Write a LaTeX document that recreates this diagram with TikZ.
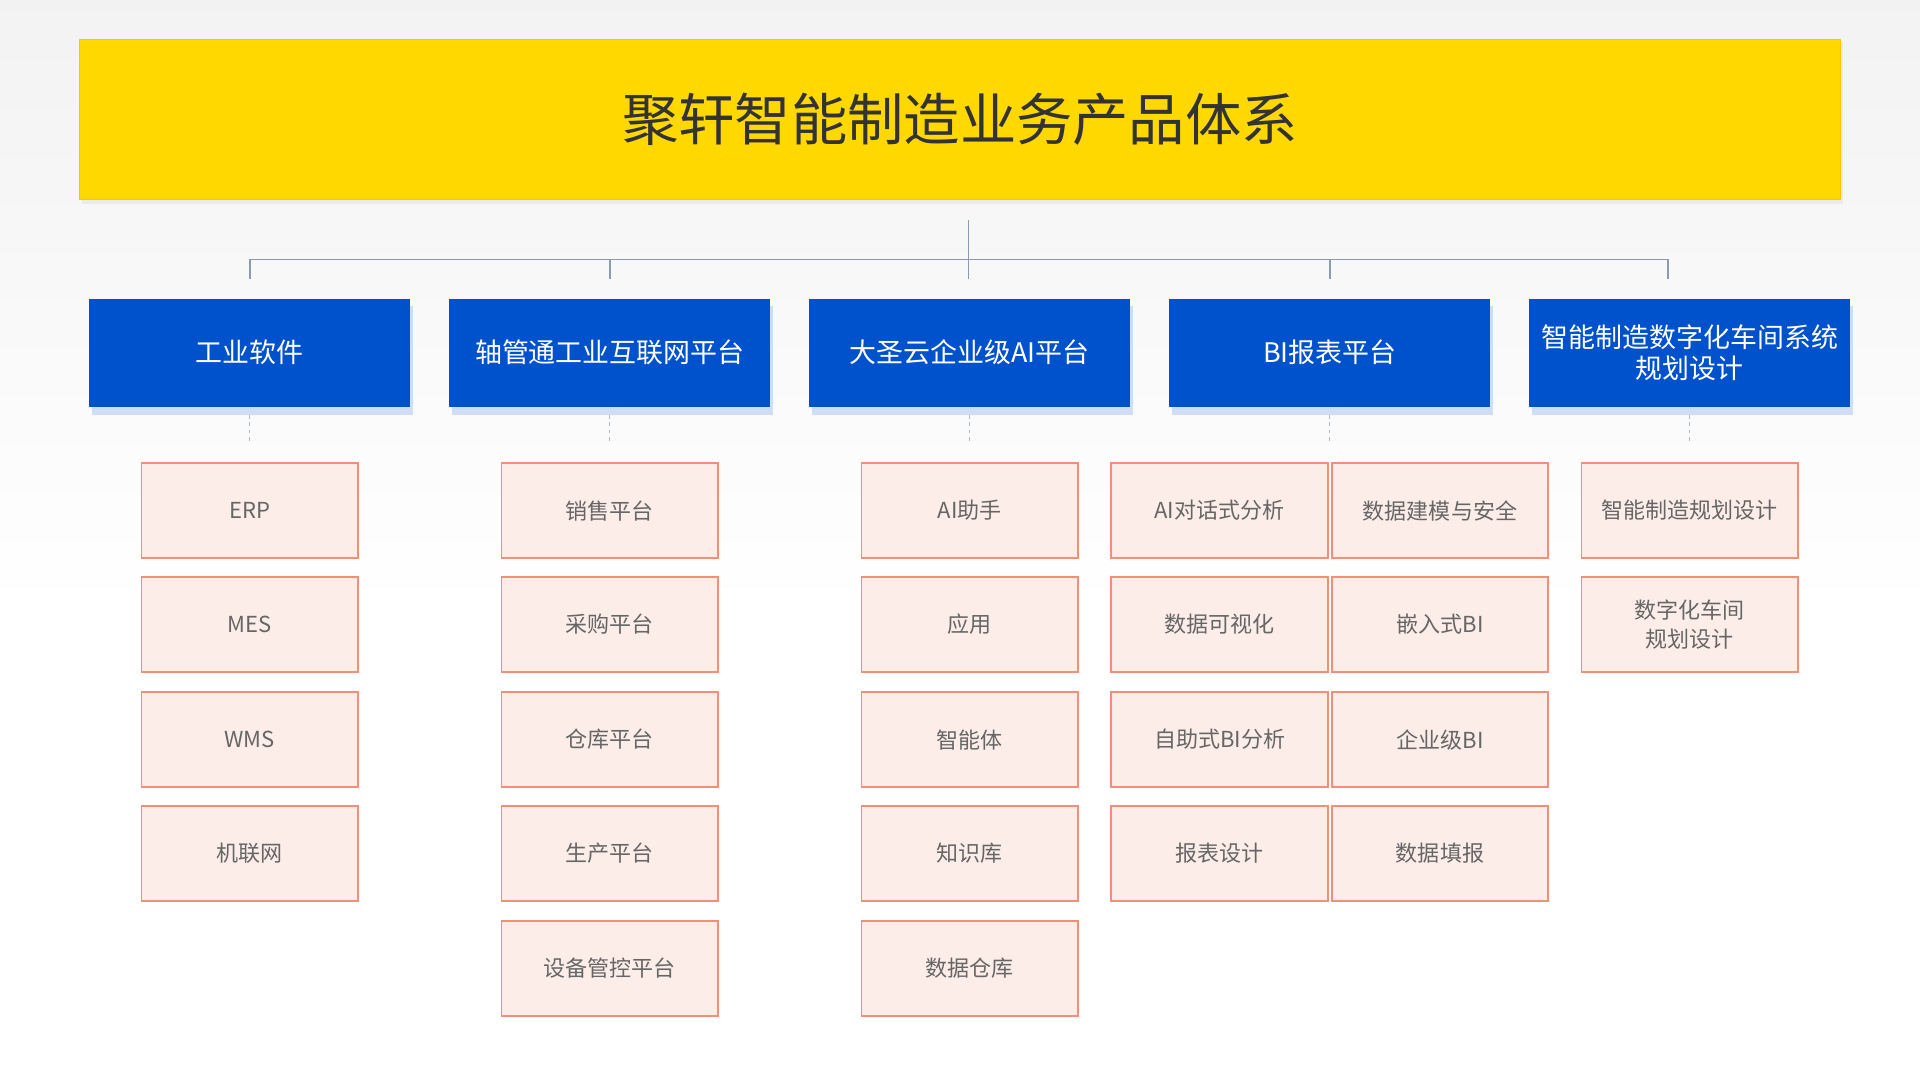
\documentclass[tikz,border=0pt]{standalone}
\usepackage{fontspec}
\setmainfont{Noto Sans CJK SC}
\newfontfamily\cjk{Noto Sans CJK SC}
\definecolor{ttl}{HTML}{FFD800}
\definecolor{blu}{HTML}{0052CC}
\definecolor{pk}{HTML}{FCEDE9}
\definecolor{pkb}{HTML}{F0907A}
\definecolor{ln}{HTML}{8A9BB0}
\definecolor{tx}{HTML}{666666}
\tikzset{
 titlebox/.style={fill=ttl,draw=ttl!80!orange,minimum width=1438pt,minimum height=131pt,inner sep=0pt,font=\fontsize{46}{50}\selectfont,text=black!80},
 bluebox/.style={fill=blu,minimum width=262pt,minimum height=88pt,inner sep=0pt,text=white,align=center,font=\fontsize{22}{26}\selectfont},
 pinkbox/.style={fill=pk,draw=pkb,line width=1.5pt,minimum width=177pt,minimum height=78pt,inner sep=0pt,text=tx,align=center,font=\fontsize{18}{24}\selectfont},
 conn/.style={draw=ln,line width=1.2pt},
 dconn/.style={draw=ln!70,line width=1pt,dashed}
}
\begin{document}
\begin{tikzpicture}[x=1pt,y=-1pt]
\shade[top color=black!5,bottom color=white] (0,0) rectangle (1568,500);
\fill[white] (0,500) rectangle (1568,882);
\useasboundingbox (0,0) rectangle (1568,882);
\fill[black!8] (67,36) rectangle (1505,167);
\node[titlebox] (t) at (784,97.5) {聚轩智能制造业务产品体系};
\coordinate (hub) at (791,212);
\draw[conn] (791,180) -- (hub);
\foreach \x/\n/\txt in {204/a/工业软件,498/b/轴管通工业互联网平台,792/c/大圣云企业级AI平台,1086/d/BI报表平台,1380/e/{智能制造数字化车间系统\\规划设计}}{
  \fill[blu!30,opacity=0.6] (\x-129,250) rectangle (\x+133,339);
  \node[bluebox] (\n) at (\x,288) {\txt};
  \draw[dconn] (\x,339) -- (\x,360);
}
\draw[conn] (204,228) -- (204,212) -- (1362,212) -- (1362,228);
\foreach \x in {498,791,1086} \draw[conn] (\x,212) -- (\x,228);
\foreach \n/\x/\y/\txt in {
 a1/204/417/ERP, a2/204/510/MES, a3/204/604/WMS, a4/204/697/机联网,
 b1/498/417/销售平台, b2/498/510/采购平台, b3/498/604/仓库平台, b4/498/697/生产平台, b5/498/791/设备管控平台,
 c1/792/417/AI助手, c2/792/510/应用, c3/792/604/智能体, c4/792/697/知识库, c5/792/791/数据仓库,
 d1/996/417/AI对话式分析, d2/996/510/数据可视化, d3/996/604/自助式BI分析, d4/996/697/报表设计,
 f1/1176/417/数据建模与安全, f2/1176/510/嵌入式BI, f3/1176/604/企业级BI, f4/1176/697/数据填报,
 e1/1380/417/智能制造规划设计, e2/1380/510/{数字化车间\\规划设计}}{
  \node[pinkbox] (\n) at (\x,\y) {\txt};
}
\end{tikzpicture}
\end{document}
